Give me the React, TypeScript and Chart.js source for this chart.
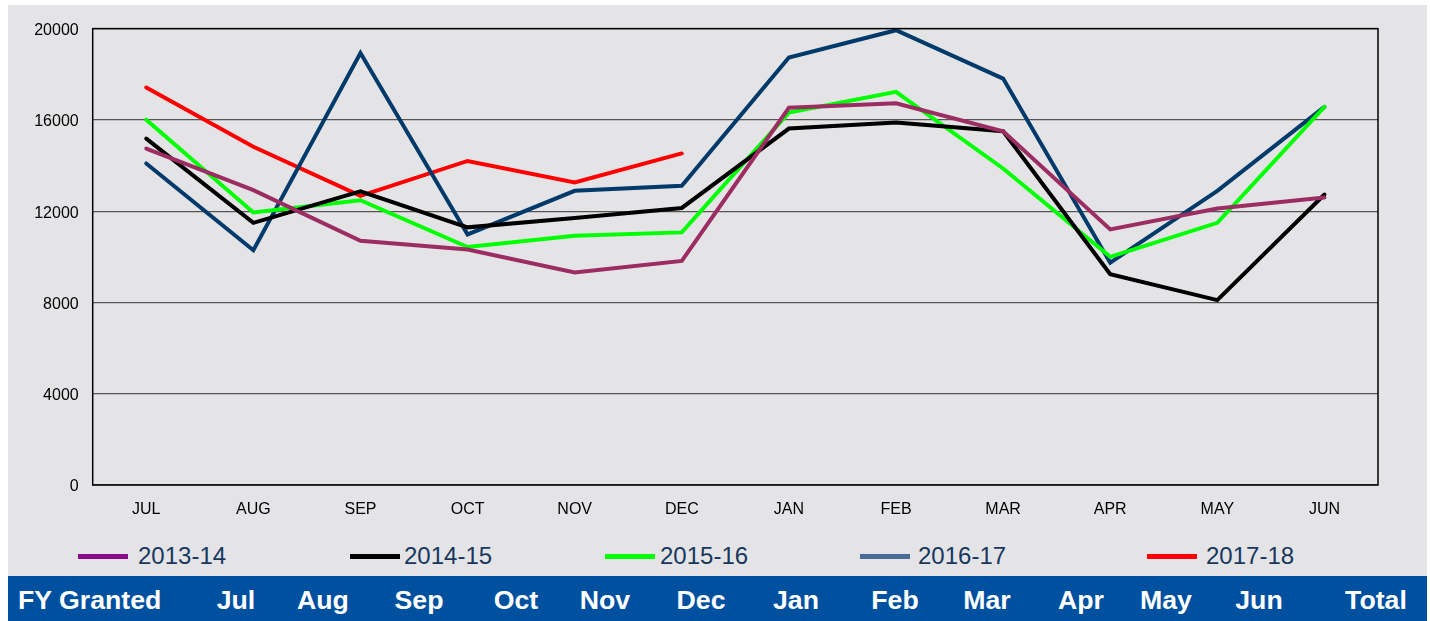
import React, { useEffect, useRef } from "react";
import { Chart, registerables } from "chart.js";

Chart.register(...registerables);

const months = ["JUL", "AUG", "SEP", "OCT", "NOV", "DEC", "JAN", "FEB", "MAR", "APR", "MAY", "JUN"];
const fy1314 = [14745, 12920, 10700, 10320, 9310, 9820, 16530, 16730, 15500, 11200, 12120, 12600];
const fy1415 = [15180, 11490, 12870, 11290, 11700, 12140, 15620, 15890, 15500, 9240, 8100, 12730];
const fy1516 = [16010, 11940, 12480, 10430, 10920, 11070, 16320, 17230, 13870, 10000, 11490, 16570];
const fy1617 = [14090, 10290, 18930, 10980, 12890, 13110, 18730, 19930, 17810, 9740, 12890, 16570];
const fy1718 = [17420, 14820, 12670, 14200, 13260, 14530];
const seriesNames = ["2013-14", "2014-15", "2015-16", "2016-17", "2017-18"];
const lineColors = ["#9b2d62", "#000000", "#00ff00", "#003a6b", "#ff0000"];
const legendColors = ["#8b0a8b", "#000000", "#00ff00", "#4a6a9a", "#ff0000"];
const yTicks = [0, 4000, 8000, 12000, 16000, 20000];
const headerLabels = ["Jul", "Aug", "Sep", "Oct", "Nov", "Dec", "Jan", "Feb", "Mar", "Apr", "May", "Jun", "Total"];
const headerTitle = "FY Granted";

// layout (pixels)
const headerCenters = [236, 323, 419, 516, 605, 701, 796, 895, 987, 1081, 1166, 1259, 1376];
const legendSampleLeft = [78, 350, 605, 860, 1147];
const legendTextLeft = [138, 404, 660, 918, 1206];

const FONT = "Arial, 'Liberation Sans', sans-serif";

const borderPlugin = {
  id: "plotBorder",
  afterDatasetsDraw(chart: any) {
    const { ctx, chartArea } = chart;
    ctx.save();
    ctx.strokeStyle = "#000";
    ctx.lineWidth = 1.5;
    ctx.strokeRect(chartArea.left, chartArea.top, chartArea.right - chartArea.left, chartArea.bottom - chartArea.top);
    ctx.restore();
  },
};

export default function App() {
  const ref = useRef<HTMLCanvasElement>(null);
  useEffect(() => {
    document.body.style.margin = "0";
    const all = [fy1314, fy1415, fy1516, fy1617, fy1718];
    const chart = new Chart(ref.current!, {
      type: "line",
      data: {
        labels: months,
        datasets: all.map((d, i) => ({
          label: seriesNames[i],
          data: d,
          borderColor: lineColors[i],
          backgroundColor: lineColors[i],
          borderWidth: 4,
          pointRadius: 0,
          tension: 0,
          borderCapStyle: "round",
          borderJoinStyle: "miter",
          fill: false,
        })),
      },
      options: {
        animation: false,
        responsive: false,
        maintainAspectRatio: false,
        layout: { padding: { top: 23.3, right: 49, left: 0, bottom: 0 } },
        plugins: { legend: { display: false }, tooltip: { enabled: false } },
        scales: {
          x: {
            offset: true,
            grid: { display: false, drawTicks: false },
            border: { display: false },
            ticks: { color: "#000", font: { family: FONT, size: 16 }, padding: 15, maxRotation: 0 },
            afterFit: (s: any) => { s.height = 40; },
          },
          y: {
            min: 0,
            max: 20000,
            afterBuildTicks: (s: any) => { s.ticks = yTicks.map((v) => ({ value: v })); },
            grid: { color: "#555", lineWidth: 1.2, drawTicks: false },
            border: { display: false },
            ticks: { color: "#000", font: { family: FONT, size: 16 }, padding: 14, labelOffset: 2, callback: (v: any) => String(v) },
            afterFit: (s: any) => { s.width = 84.7; },
          },
        },
      },
      plugins: [borderPlugin],
    } as any);
    return () => chart.destroy();
  }, []);

  return (
    <div style={{ position: "relative", width: 1430, height: 621, fontFamily: FONT }}>
      <div style={{ position: "absolute", left: 8, top: 5, width: 1419, height: 571, background: "#e4e4e7" }} />
      <canvas ref={ref} width={1419} height={520} style={{ position: "absolute", left: 8, top: 5, width: 1419, height: 520 }} />
      {seriesNames.map((n, i) => (
        <React.Fragment key={n}>
          <div style={{ position: "absolute", left: legendSampleLeft[i], top: 554, width: 50, height: 5, background: legendColors[i] }} />
          <div style={{ position: "absolute", left: legendTextLeft[i], top: 542, height: 28, lineHeight: "28px", fontSize: 24, color: "#17375e" }}>{n}</div>
        </React.Fragment>
      ))}
      <div style={{ position: "absolute", left: 8, top: 576, width: 1419, height: 45, background: "#0050a0" }} />
      <div style={{ position: "absolute", left: 18, top: 578, height: 45, lineHeight: "45px", fontSize: 26.7, fontWeight: "bold", color: "#fff" }}>{headerTitle}</div>
      {headerLabels.map((h, i) => (
        <div key={h} style={{ position: "absolute", left: headerCenters[i] - 60, width: 120, textAlign: "center", top: 578, height: 45, lineHeight: "45px", fontSize: 26.7, fontWeight: "bold", color: "#fff" }}>{h}</div>
      ))}
    </div>
  );
}
